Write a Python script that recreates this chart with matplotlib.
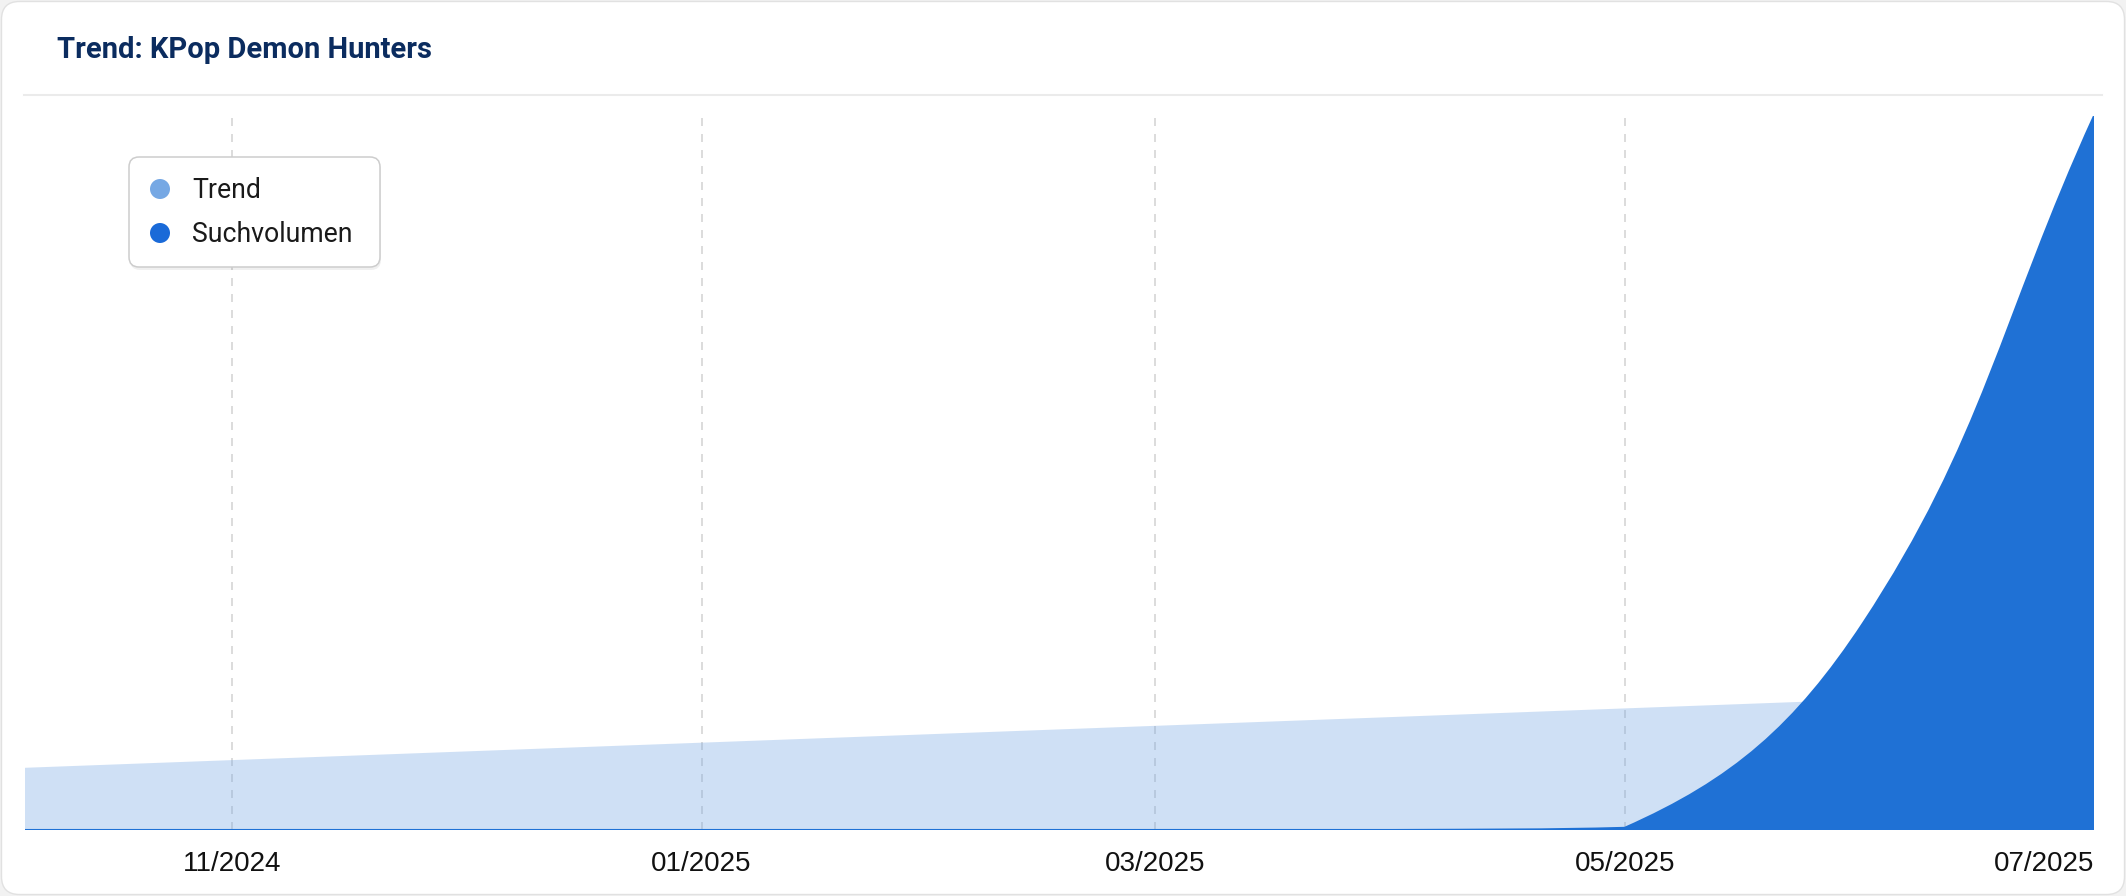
import datetime as dt
import numpy as np
import matplotlib
matplotlib.use("Agg")
import matplotlib.pyplot as plt
import matplotlib.dates as mdates
from matplotlib.path import Path
from matplotlib.patches import PathPatch, FancyBboxPatch, Circle
from matplotlib.transforms import IdentityTransform

# ---------------- data ----------------
title = "Trend: KPop Demon Hunters"
months = ["2024-10-01", "2024-11-01", "2024-12-01", "2025-01-01", "2025-02-01",
          "2025-03-01", "2025-04-01", "2025-05-01", "2025-06-01", "2025-07-01"]
trend = [8.55, 9.79, 10.99, 12.23, 13.47, 14.59, 15.83, 17.03, 18.27, 19.47]
search_volume = [0, 0, 0, 0, 0, 0, 0, 0.3, 29, 100]
series_names = ["Trend", "Suchvolumen"]
tick_months = ["2024-11-01", "2025-01-01", "2025-03-01", "2025-05-01", "2025-07-01"]
tick_labels = ["11/2024", "01/2025", "03/2025", "05/2025", "07/2025"]
x_start = "2024-10-05"
x_end = "2025-07-01"

# ---------------- styling ----------------
W, H = 2126, 896
TREND_MARK = "#76a8e4"
VOL_COLOR = "#1f71d5"
VOL_MARK = "#1a6ad8"
TITLE_COLOR = "#0b2c5f"

def to_num(s):
    return mdates.date2num(dt.datetime.strptime(s, "%Y-%m-%d"))

xs = np.array([to_num(m) for m in months])

fig = plt.figure(figsize=(W / 100, H / 100), dpi=100)
fig.patch.set_facecolor("#f2f2f2")

card = FancyBboxPatch((1.5, 1.5), W - 3, H - 3,
                      boxstyle="round,pad=0,rounding_size=18",
                      transform=IdentityTransform(), fc="white", ec="#e1e1e1",
                      lw=1.0, zorder=-10)
fig.patches.append(card)

# title + separator
fig.text(57 / W, 1 - 58 / H, title, fontsize=21, fontweight="bold",
         family=["Roboto", "DejaVu Sans"], color=TITLE_COLOR, ha="left", va="baseline")
fig.add_artist(plt.Line2D([24 / W, 2102 / W], [1 - 95 / H, 1 - 95 / H],
                          transform=fig.transFigure, color="#ebebeb", lw=1.5))

# axes
left, right, top, bottom = 24.5, 2094, 116, 830
ax = fig.add_axes([left / W, 1 - bottom / H, (right - left) / W, (bottom - top) / H])
ax.set_facecolor("none")
ax.set_xlim(to_num(x_start), to_num(x_end))
ax.set_ylim(0, max(search_volume))
for sp in ax.spines.values():
    sp.set_visible(False)
ax.set_yticks([])
ax.set_xticks([to_num(t) for t in tick_months])
ax.set_xticklabels(tick_labels, family=["Liberation Sans", "DejaVu Sans"],
                   fontsize=20, color="#111111")
ax.get_xticklabels()[-1].set_ha("right")
ax.tick_params(axis="x", length=0, pad=15)
ax.set_axisbelow(True)
ax.grid(axis="x", color="#dcdcdc", lw=1.44, linestyle=(0, (4, 4)))


def chartjs_spline(xv, yv, tension=0.4):
    pts = ax.transData.transform(np.column_stack([xv, yv]))
    n = len(pts)
    bb = ax.bbox
    cpp = np.zeros_like(pts)
    cpn = np.zeros_like(pts)
    for i in range(n):
        cur = pts[i]
        prv = pts[i - 1] if i > 0 else cur
        nxt = pts[i + 1] if i < n - 1 else cur
        d01 = np.hypot(*(cur - prv))
        d12 = np.hypot(*(nxt - cur))
        tot = d01 + d12
        s01 = d01 / tot if tot else 0
        s12 = d12 / tot if tot else 0
        cpp[i] = cur - tension * s01 * (nxt - prv)
        cpn[i] = cur + tension * s12 * (nxt - prv)
    for arr in (cpp, cpn):
        arr[:, 0] = np.clip(arr[:, 0], bb.x0, bb.x1)
        arr[:, 1] = np.clip(arr[:, 1], bb.y0, bb.y1)
    verts = [pts[0]]
    codes = [Path.MOVETO]
    for i in range(n - 1):
        verts += [cpn[i], cpp[i + 1], pts[i + 1]]
        codes += [Path.CURVE4] * 3
    inv = ax.transData.inverted()
    return inv.transform(np.array(verts)), codes


def area(xv, yv, face, alpha, z, line_color=None, lw=0):
    verts, codes = chartjs_spline(xv, yv)
    fv = np.vstack([verts, [[xv[-1], 0], [xv[0], 0], [xv[0], 0]]])
    fc = codes + [Path.LINETO, Path.LINETO, Path.CLOSEPOLY]
    ax.add_patch(PathPatch(Path(fv, fc), fc=face, ec="none", alpha=alpha, zorder=z))
    if line_color:
        ax.add_patch(PathPatch(Path(verts, codes), fc="none", ec=line_color,
                               lw=lw, zorder=z + 0.1))


area(xs, np.array(trend), TREND_MARK, 0.35, 1)
area(xs, np.array(search_volume), VOL_COLOR, 1.0, 2, line_color=VOL_COLOR, lw=1.5)

# ---------------- legend ----------------
itf = IdentityTransform()
bx0, by0, bx1, by1 = 129, 157, 380, 267
shadow = FancyBboxPatch((bx0 + 1, H - by1 - 3), bx1 - bx0, by1 - by0,
                        boxstyle="round,pad=0,rounding_size=10", transform=itf,
                        fc="#000000", ec="none", alpha=0.06, zorder=20)
box = FancyBboxPatch((bx0, H - by1), bx1 - bx0, by1 - by0,
                     boxstyle="round,pad=0,rounding_size=10", transform=itf,
                     fc="white", ec="#cdcdcd", lw=1.1, zorder=21)
fig.patches.extend([shadow, box])
for name, col, cy in zip(series_names, [TREND_MARK, VOL_MARK], [189, 233]):
    fig.patches.append(Circle((160, H - cy), 10, transform=itf, fc=col, ec="none", zorder=22))
    t = fig.text(192 / W, 1 - (cy + 9.5) / H, name, fontsize=19.2,
                 family=["Roboto", "DejaVu Sans"], color="#1a1a1a",
                 ha="left", va="baseline")
    t.set_zorder(23)

fig.savefig("out.png", dpi=100)
